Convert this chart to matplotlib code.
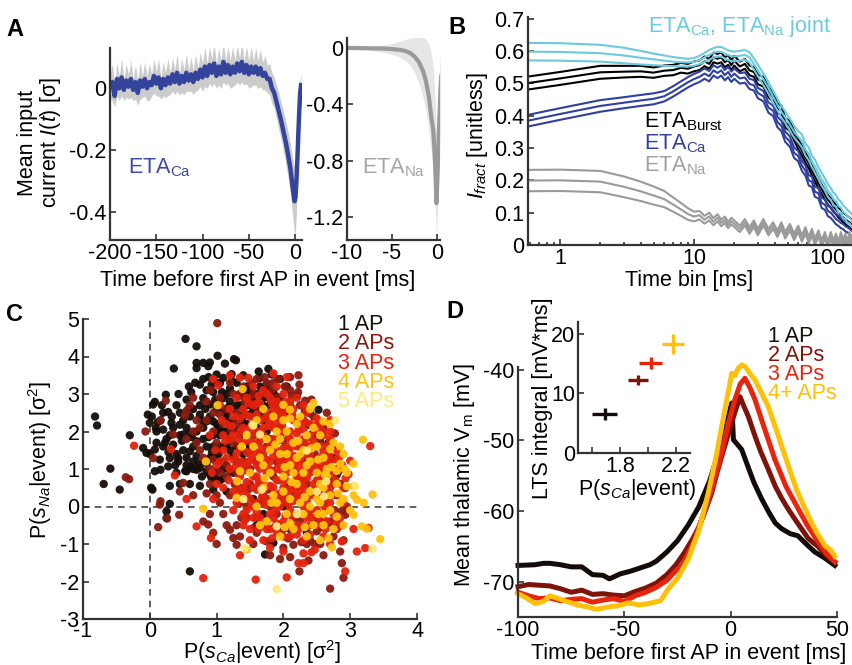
import numpy as np
import matplotlib
matplotlib.use('Agg')
import matplotlib.pyplot as plt

plt.rcParams['font.family'] = ['Liberation Sans', 'DejaVu Sans']
plt.rcParams['mathtext.fontset'] = 'custom'
plt.rcParams['mathtext.rm'] = 'Liberation Sans'
plt.rcParams['mathtext.it'] = 'Liberation Sans:italic'
plt.rcParams['mathtext.bf'] = 'Liberation Sans:bold'
plt.rcParams['axes.unicode_minus'] = False

# ---- panel A: ETA_Ca (left) ----
ca_t = [-200, -197.5, -195, -192.5, -190, -187.5, -185, -182.5, -180, -177.5,
        -175, -172.5, -170, -167.5, -165, -162.5, -160, -157.5, -155, -152.5,
        -150, -147.5, -145, -142.5, -140, -137.5, -135, -132.5, -130, -127.5,
        -125, -122.5, -120, -117.5, -115, -112.5, -110, -107.5, -105, -102.5,
        -100, -97.5, -95, -92.5, -90, -87.5, -85, -82.5, -80, -77.5,
        -75, -72.5, -70, -67.5, -65, -62.5, -60, -57.5, -55, -52.5,
        -50, -47.5, -45, -42.5, -40, -37.5, -35, -32.5, -30, -27.5,
        -25, -22.5, -20, -17.5, -15, -12.5, -10, -7.5, -5, -3,
        -1.5, -0.5, 0.5, 1.5, 2.5, 3.5, 4.5, 5.5, 6.5]
ca_v = [0.005, 0.02, -0.025, 0.03, 0.0, 0.035, -0.005, 0.025, 0.005, 0.03,
        -0.005, 0.02, -0.015, 0.025, 0.005, 0.03, 0.0, 0.02, 0.01, 0.04,
        0.015, 0.035, 0.0, 0.03, 0.01, 0.035, 0.015, 0.045, 0.02, 0.05,
        0.015, 0.04, 0.02, 0.05, 0.025, 0.045, 0.02, 0.05, 0.03, 0.06,
        0.035, 0.07, 0.04, 0.075, 0.05, 0.08, 0.04, 0.07, 0.045, 0.085,
        0.05, 0.075, 0.045, 0.07, 0.05, 0.08, 0.055, 0.085, 0.05, 0.075,
        0.045, 0.07, 0.05, 0.07, 0.045, 0.065, 0.04, 0.05, 0.03, 0.03,
        0.0, -0.015, -0.045, -0.075, -0.105, -0.14, -0.175, -0.215, -0.26, -0.31,
        -0.345, -0.365, -0.35, -0.3, -0.23, -0.15, -0.075, -0.015, 0.01]
ca_err = [0.04, 0.06, 0.035, 0.055, 0.04, 0.06, 0.035, 0.055, 0.04, 0.06,
          0.035, 0.055, 0.04, 0.06, 0.035, 0.055, 0.04, 0.06, 0.035, 0.055,
          0.04, 0.06, 0.035, 0.055, 0.04, 0.06, 0.035, 0.055, 0.04, 0.06,
          0.035, 0.055, 0.04, 0.06, 0.035, 0.055, 0.04, 0.06, 0.035, 0.055,
          0.045, 0.065, 0.04, 0.06, 0.045, 0.065, 0.04, 0.06, 0.045, 0.065,
          0.04, 0.06, 0.045, 0.065, 0.04, 0.06, 0.045, 0.065, 0.04, 0.06,
          0.045, 0.065, 0.04, 0.06, 0.045, 0.06, 0.045, 0.055, 0.045, 0.05,
          0.05, 0.05, 0.055, 0.06, 0.06, 0.065, 0.07, 0.075, 0.08, 0.09,
          0.1, 0.11, 0.11, 0.1, 0.08, 0.06, 0.05, 0.04, 0.04]

# ---- panel A: ETA_Na (right) ----
na_t = [-10, -8, -6, -5, -4, -3.5, -3, -2.5, -2, -1.5,
        -1.2, -0.9, -0.6, -0.4, -0.2, -0.05, 0.1, 0.25, 0.4, 0.5]
na_v = [0.0, -0.002, -0.005, -0.008, -0.015, -0.022, -0.035, -0.06, -0.1, -0.17,
        -0.24, -0.34, -0.5, -0.58, -0.8, -1.1, -0.85, -0.55, -0.3, -0.2]
na_hi = [0.01, 0.012, 0.02, 0.03, 0.05, 0.06, 0.07, 0.075, 0.08, 0.075,
         0.06, 0.03, -0.05, -0.15, -0.35, -0.6, -0.4, -0.2, -0.05, 0.0]
na_lo = [-0.01, -0.015, -0.03, -0.045, -0.07, -0.09, -0.12, -0.17, -0.25, -0.36,
         -0.45, -0.58, -0.75, -0.9, -1.1, -1.32, -1.15, -0.9, -0.6, -0.45]

# ---- panel B: I_fract vs time bin (mid line and half spread of 3 lines) ----
t_bin = [0.5, 1, 2, 3, 4, 5, 6, 7, 8, 9, 10,
         11, 12, 13, 14, 15, 16, 17, 18, 19, 20, 22,
         24, 26, 28, 30, 33, 36, 39, 42, 45, 48, 52,
         56, 60, 64, 68, 72, 76, 80, 85, 90, 95, 100,
         105, 110, 115, 120, 125, 130, 135, 140, 145, 150, 155]
joint_mid = [0.598, 0.597, 0.593, 0.586, 0.579, 0.574, 0.570, 0.567, 0.565, 0.564, 0.566,
             0.572, 0.580, 0.588, 0.594, 0.598, 0.597, 0.592, 0.587, 0.584, 0.583, 0.585,
             0.588, 0.580, 0.560, 0.540, 0.512, 0.486, 0.458, 0.434, 0.412, 0.395, 0.372,
             0.350, 0.335, 0.322, 0.295, 0.282, 0.258, 0.244, 0.222, 0.203, 0.188, 0.168,
             0.158, 0.142, 0.136, 0.12, 0.116, 0.102, 0.098, 0.088, 0.085, 0.076, 0.072]
joint_spr = [0.027, 0.027, 0.026, 0.024, 0.021, 0.018, 0.016, 0.014, 0.013, 0.012, 0.012,
             0.013, 0.014, 0.015, 0.015, 0.015, 0.015, 0.015, 0.015, 0.015, 0.015, 0.015,
             0.015, 0.016, 0.017, 0.018, 0.018, 0.018, 0.018, 0.018, 0.018, 0.018, 0.018,
             0.018, 0.018, 0.02, 0.018, 0.02, 0.018, 0.02, 0.018, 0.02, 0.018, 0.02,
             0.018, 0.02, 0.018, 0.02, 0.018, 0.02, 0.018, 0.02, 0.018, 0.02, 0.018]
burst_mid = [0.497, 0.515, 0.534, 0.536, 0.537, 0.533, 0.539, 0.541, 0.548, 0.545, 0.552,
             0.556, 0.568, 0.56, 0.58, 0.576, 0.58, 0.565, 0.572, 0.556, 0.57, 0.552,
             0.56, 0.54, 0.535, 0.512, 0.505, 0.472, 0.458, 0.422, 0.416, 0.378, 0.368,
             0.338, 0.312, 0.292, 0.27, 0.252, 0.23, 0.212, 0.19, 0.172, 0.155, 0.14,
             0.13, 0.118, 0.11, 0.1, 0.094, 0.085, 0.08, 0.074, 0.07, 0.064, 0.06]
burst_spr = [0.02, 0.02, 0.02, 0.018, 0.017, 0.016, 0.016, 0.016, 0.015, 0.015, 0.015,
             0.015, 0.015, 0.015, 0.015, 0.015, 0.015, 0.015, 0.015, 0.015, 0.015, 0.015,
             0.015, 0.015, 0.015, 0.015, 0.015, 0.015, 0.015, 0.015, 0.015, 0.015, 0.015,
             0.015, 0.015, 0.015, 0.015, 0.015, 0.015, 0.015, 0.015, 0.015, 0.015, 0.015,
             0.015, 0.015, 0.015, 0.015, 0.015, 0.015, 0.015, 0.015, 0.015, 0.015, 0.015]
ca_mid = [0.379, 0.405, 0.43, 0.44, 0.447, 0.452, 0.46, 0.475, 0.49, 0.503, 0.513,
          0.52, 0.53, 0.522, 0.54, 0.532, 0.54, 0.525, 0.535, 0.52, 0.53, 0.515,
          0.518, 0.498, 0.494, 0.47, 0.46, 0.425, 0.415, 0.38, 0.368, 0.335, 0.32,
          0.285, 0.275, 0.245, 0.23, 0.2, 0.195, 0.165, 0.16, 0.13, 0.125, 0.105,
          0.1, 0.09, 0.08, 0.075, 0.068, 0.065, 0.058, 0.055, 0.05, 0.045, 0.04]
ca_spr = [0.018, 0.018, 0.018, 0.017, 0.017, 0.017, 0.016, 0.016, 0.016, 0.016, 0.016,
          0.016, 0.016, 0.016, 0.016, 0.016, 0.016, 0.016, 0.016, 0.016, 0.016, 0.016,
          0.016, 0.016, 0.016, 0.016, 0.016, 0.016, 0.016, 0.016, 0.016, 0.016, 0.016,
          0.016, 0.016, 0.016, 0.016, 0.016, 0.016, 0.016, 0.016, 0.016, 0.016, 0.016,
          0.016, 0.016, 0.016, 0.016, 0.016, 0.016, 0.016, 0.016, 0.016, 0.016, 0.016]
nab_mid = [0.199, 0.2, 0.196, 0.18, 0.166, 0.153, 0.142, 0.125, 0.11, 0.096, 0.088,
           0.092, 0.078, 0.088, 0.072, 0.084, 0.068, 0.078, 0.062, 0.074, 0.066, 0.05,
           0.07, 0.045, 0.066, 0.04, 0.07, 0.04, 0.06, 0.035, 0.06, 0.03, 0.055,
           0.025, 0.05, 0.02, 0.045, 0.015, 0.04, 0.01, 0.035, 0.005, 0.03, 0.0,
           0.03, 0.005, 0.025, 0.0, 0.03, 0.005, 0.025, 0.0, 0.03, 0.01, 0.025]
nab_spr = [0.033, 0.033, 0.033, 0.032, 0.03, 0.028, 0.025, 0.022, 0.02, 0.018, 0.015,
           0.013, 0.012, 0.012, 0.011, 0.011, 0.01, 0.01, 0.01, 0.01, 0.01, 0.01,
           0.01, 0.01, 0.01, 0.01, 0.01, 0.01, 0.01, 0.01, 0.01, 0.01, 0.01,
           0.01, 0.01, 0.01, 0.01, 0.01, 0.01, 0.01, 0.01, 0.01, 0.01, 0.01,
           0.01, 0.01, 0.01, 0.01, 0.01, 0.01, 0.01, 0.01, 0.01, 0.01, 0.01]

# ---- panel C: P(s_Ca|event), P(s_Na|event) per event ----
ap1_pts = [(-0.82, 2.40), (-0.79, 2.16), (-0.69, 0.60), (-0.59, 1.01), (-0.45, 0.45), (-0.3, 1.9),
           (-0.1, 1.56), (-0.05, 1.43), (-0.03, 2.45), (0.0, 2.23), (0.03, 2.40), (0.0, 1.40),
           (0.02, 0.50), (0.04, 0.45), (0.05, 2.72), (0.075, 2.79), (0.075, 1.52), (0.075, 0.94),
           (0.09, 2.09), (0.16, 0.98), (0.16, 2.30), (0.2, 2.05), (0.2, 1.60), (0.225, 1.69),
           (0.24, 2.98), (0.25, -0.13), (0.25, -0.31), (0.275, 2.52), (0.275, 1.07), (0.3, 0.07),
           (0.3, 1.29), (0.325, 2.23), (0.36, 3.68), (0.425, 1.29), (0.425, 1.20), (0.45, 2.18),
           (0.5, 1.92), (0.535, 4.47), (0.55, 0.94), (0.585, 3.2), (0.6, 1.47), (0.6, 1.96),
           (0.6, -1.73), (0.65, 1.20), (0.7, 4.27), (0.7, 3.83), (0.7, 3.69), (0.7, 1.74),
           (0.7, 0.98), (0.75, 3.25), (0.75, 2.45), (0.75, 1.03), (0.8, 3.83), (0.8, 2.89),
           (0.85, 2.27), (0.85, 0.94), (0.875, 3.74), (0.9, 3.84), (0.9, 2.72), (0.925, 3.25),
           (0.925, 0.76), (0.95, 2.27), (1.0, 3.52), (1.0, 0.94), (1.015, 4.02), (1.05, 3.29),
           (1.075, 2.0), (1.1, 3.43), (1.1, 2.89), (1.1, 1.2), (1.125, 3.81), (1.15, 2.45),
           (1.2, 2.80), (1.225, 3.53), (1.26, 3.93), (1.29, 3.90), (1.65, 3.43), (1.775, 3.67),
           (1.825, 3.52), (1.75, 3.25), (2.2, 2.96), (2.4, 2.49), (2.525, 2.58), (2.25, 2.27),
           (2.375, 2.18), (2.55, 1.74), (2.675, 1.70), (2.725, 1.30), (2.8, 0.85), (2.55, -0.31),
           (1.85, -0.97), (1.725, -1.28), (1.55, 2.80), (0.5, 1.5), (0.55, 1.1), (0.65, 2.6),
           (0.8, 2.1), (0.85, 1.6), (0.9, 1.3), (0.95, 1.9), (1.0, 2.6), (1.05, 1.6),
           (1.1, 1.0), (1.15, 2.0), (1.2, 1.5), (1.25, 2.3), (1.3, 2.7), (1.3, 1.2),
           (1.35, 3.0), (1.35, 1.9), (1.4, 2.5), (1.45, 2.2), (1.45, 3.2), (1.5, 2.7),
           (1.55, 2.4), (1.6, 3.0), (1.6, 2.1), (1.65, 2.6), (1.7, 2.9), (1.7, 2.3),
           (1.75, 2.0), (1.8, 2.7), (1.85, 3.1), (1.9, 2.4), (1.95, 2.9), (2.0, 2.6),
           (2.05, 3.2), (2.1, 2.5), (0.4, 0.9), (0.45, 0.6), (0.6, 0.6), (0.75, 0.55),
           (0.95, 0.45), (1.05, 0.7), (0.35, 1.65), (0.45, 2.5), (0.55, 2.85), (0.62, 3.05),
           (0.95, 3.05), (1.2, 3.15), (1.4, 3.5), (1.0, 1.45), (1.25, 0.9), (1.5, 1.6),
           (1.6, 1.2), (1.35, 0.5), (1.55, 0.2), (1.7, -0.2), (2.1, -0.6), (2.35, -0.7),
           (2.0, 0.0), (1.6, -0.5), (0.3, 0.55), (0.15, 1.25),
           (0.4, 1.4), (0.45, 1.9), (0.5, 2.3), (0.55, 2.1), (0.6, 2.4), (0.65, 1.6),
           (0.7, 2.0), (0.75, 2.7), (0.8, 1.8), (0.8, 3.4), (0.85, 3.1), (0.9, 2.4),
           (0.95, 1.6), (1.0, 2.2), (1.0, 3.3), (1.05, 1.9), (1.1, 2.6), (1.15, 3.0),
           (1.2, 2.2), (1.2, 1.8), (1.25, 2.6), (1.3, 3.3), (1.35, 2.7), (1.4, 2.2),
           (1.45, 2.7), (1.5, 3.1), (1.55, 2.55), (1.6, 2.3), (1.65, 3.2), (1.7, 2.7),
           (1.8, 2.45), (1.9, 2.7), (1.95, 3.4), (0.55, 1.3), (0.65, 1.0), (0.7, 1.35),
           (0.85, 1.15), (0.9, 0.85), (1.0, 1.25), (1.15, 1.6), (0.3, 1.9), (0.35, 2.1),
           (0.4, 2.7), (0.2, 2.5), (0.1, 2.0), (0.1, 1.7), (1.15, 0.4), (1.3, 1.6), (1.4, 1.4),
           (0.33, 2.4), (0.38, 1.1), (0.43, 3.0), (0.48, 1.75), (0.53, 0.95), (0.58, 2.6),
           (0.63, 1.85), (0.68, 3.3), (0.73, 1.15), (0.78, 2.3), (0.83, 2.6), (0.88, 3.45),
           (0.93, 1.45), (0.98, 2.85), (1.03, 2.1), (1.08, 3.05), (1.13, 2.35), (1.18, 2.65),
           (1.23, 3.35), (1.28, 2.05), (1.33, 2.95), (1.38, 2.35), (1.43, 3.0), (1.48, 2.45),
           (1.53, 2.95), (1.58, 2.65), (1.63, 3.6), (1.68, 2.45), (1.73, 3.1), (1.78, 2.9),
           (1.88, 2.95), (0.25, 1.8), (0.18, 2.7), (0.12, 2.25), (0.28, 1.45), (0.6, 1.05),
           (0.78, 0.8), (0.88, 1.85), (1.03, 1.4), (1.18, 1.0), (0.98, 0.75), (1.1, 0.75),
           (1.25, 1.35), (1.45, 1.0)]
ap2_pts = [(1.01, 4.89), (-0.36, 0.78), (-0.31, 0.73), (-0.065, 2.0), (0.125, -0.55), (0.26, -0.32),
           (0.44, -0.22), (0.15, 0.05), (0.16, 0.14), (0.24, 2.82), (0.16, 2.29), (0.525, 2.43),
           (0.35, 1.92), (0.05, 1.29), (0.5, 0.63), (0.45, 0.40), (0.8, -0.40), (0.875, -0.48),
           (1.2, -0.62), (1.25, -0.84), (1.3, -1.02), (2.225, 3.50), (2.24, 3.25), (2.325, 2.82),
           (2.69, 1.70), (2.725, 1.57), (2.85, 1.1), (2.825, 0.93), (2.925, 0.49), (2.875, -0.13),
           (2.925, -0.22), (2.6, -0.35), (2.675, -0.44), (2.5, -0.66), (2.0, -1.1), (2.15, -1.02),
           (1.75, -0.93), (2.375, -1.44), (2.875, -1.51), (2.70, -2.19), (2.24, -1.73), (0.6, 2.7),
           (0.7, 2.3), (0.8, 1.3), (0.9, 1.0), (0.95, 2.5), (1.0, 0.3), (1.1, 2.2),
           (1.15, 0.8), (1.2, 3.3), (1.25, 1.7), (1.3, 2.5), (1.35, 0.1), (1.4, 1.2),
           (1.45, -0.3), (1.5, 2.9), (1.5, 0.6), (1.55, 1.9), (1.6, -0.7), (1.65, 1.4),
           (1.7, 2.6), (1.7, 0.3), (1.75, -0.4), (1.8, 1.8), (1.85, 3.3), (1.85, 0.8),
           (1.9, -0.2), (1.95, 2.1), (2.0, 1.3), (2.0, -0.6), (2.05, 0.5), (2.1, 2.7),
           (2.15, 1.7), (2.2, 0.2), (2.25, -0.4), (2.3, 1.2), (2.3, 2.3), (2.35, 0.6),
           (2.4, -0.9), (2.45, 1.9), (2.5, 0.3), (2.55, 1.0), (2.6, 2.1), (2.65, -0.1),
           (2.7, 0.7), (2.75, -0.8), (2.8, 0.3), (1.35, 3.0), (1.6, 3.4), (1.1, -0.2),
           (0.65, 0.3), (0.95, -0.7), (1.55, -1.0), (1.95, -1.4), (2.55, -1.0), (2.85, -1.2),
           (2.9, -1.9), (2.1, 3.45), (1.9, 2.6), (0.9, 3.1), (1.05, 2.9), (0.7, 1.7),
           (1.3, -0.5),
           (0.55, 1.8), (0.65, 2.0), (0.75, 1.5), (0.85, 2.8), (0.9, 0.6), (1.0, 1.7),
           (1.05, 0.1), (1.15, 2.6), (1.2, 0.3), (1.25, 3.0), (1.3, 0.9), (1.4, 3.2),
           (1.45, 0.0), (1.5, 1.0), (1.55, 3.0), (1.6, -0.3), (1.65, 2.0), (1.7, 1.1),
           (1.75, 3.3), (1.8, 0.0), (1.85, 1.5), (1.9, 2.9), (1.95, -0.5), (2.0, 1.75),
           (2.05, 0.1), (2.1, 3.1), (2.15, -0.3), (2.2, 1.3), (2.25, 2.7), (2.3, 0.7),
           (2.35, -1.0), (2.4, 1.0), (2.45, 2.4), (2.5, -0.3), (2.55, 1.7), (2.6, 0.1),
           (2.65, 2.5), (2.7, -0.4), (2.75, 1.3), (2.8, -0.6), (2.85, 0.6), (2.9, -0.9),
           (2.95, 0.0), (1.15, -0.5), (0.9, -0.2), (1.0, -1.0), (1.35, -0.8), (1.8, -1.3),
           (2.1, -1.35), (2.6, -1.3),
           (1.22, 2.05), (1.32, 2.2), (1.42, 2.8), (1.52, 3.3), (1.62, 2.6), (1.72, 3.45),
           (1.82, 3.1), (1.92, 3.4), (2.02, 3.2), (2.12, 2.95), (2.22, 3.05), (2.32, 2.55),
           (2.42, 2.85), (1.27, 0.6), (1.37, -0.3), (1.47, 0.45), (1.57, -0.55), (1.67, 0.1),
           (1.77, 0.45), (1.87, -0.55), (1.97, 0.25), (2.07, -0.85), (2.17, 0.35), (2.27, -0.95),
           (2.37, -0.15), (2.47, -1.0), (2.57, -0.55), (2.67, 0.35), (2.77, -0.1), (2.87, -0.5),
           (0.85, 2.3), (0.95, 2.0), (1.05, 2.45), (0.75, 2.1), (0.65, 2.9), (0.55, 2.55),
           (1.15, 1.1), (1.05, 0.9), (0.85, 0.35), (0.95, 1.25), (2.47, 1.4), (2.57, 1.95),
           (2.67, 1.2), (2.77, 1.95), (2.0, 2.55), (1.9, 1.2), (1.75, 1.6), (2.3, 1.6)]
ap3_pts = [(-0.235, 1.62), (0.315, 1.53), (0.375, 0.83), (0.915, -0.84), (0.8, -1.91), (0.70, -0.53),
           (1.35, -1.30), (1.025, 3.23), (1.35, 3.44), (1.475, 3.43), (1.585, -1.95), (2.05, -1.89),
           (2.225, -1.51), (2.3, -1.51), (2.925, -1.73), (3.1, -1.2), (3.225, -1.11), (2.875, -0.93),
           (2.8, -0.57), (3.275, -0.57), (3.3, 1.61), (2.7, 2.30), (3.0, 1.22), (2.975, 0.86),
           (2.42, -1.22), (2.47, -1.15), (0.55, 0.2), (0.95, 3.4), (1.2, 3.5), (1.85, 3.55),
           (2.05, 3.45), (2.7, -1.0), (2.9, 0.1), (3.05, -0.6),
           (1.2, 1.8), (1.2, 1.0), (1.25, 2.4), (1.25, 0.4), (1.3, 1.4), (1.3, 2.9),
           (1.35, 0.8), (1.35, 2.0), (1.4, -0.2), (1.4, 1.7), (1.4, 2.6), (1.45, 1.1),
           (1.45, 0.3), (1.5, 2.1), (1.5, 1.4), (1.5, -0.6), (1.55, 0.8), (1.55, 2.7),
           (1.6, 1.7), (1.6, 0.1), (1.6, 1.1), (1.65, 2.3), (1.65, -0.3), (1.65, 0.6),
           (1.7, 1.4), (1.7, 3.1), (1.7, 1.9), (1.75, 0.9), (1.75, -0.6), (1.75, 2.5),
           (1.8, 0.2), (1.8, 1.2), (1.8, 1.6), (1.85, 2.1), (1.85, 0.5), (1.85, -0.3),
           (1.9, 1.0), (1.9, 2.8), (1.9, 1.5), (1.95, 0.0), (1.95, 1.9), (1.95, 0.7),
           (2.0, 1.2), (2.0, 2.4), (2.0, -0.4), (2.05, 1.6), (2.05, 0.3), (2.05, 0.9),
           (2.1, 2.0), (2.1, 1.3), (2.1, -0.1), (2.15, 0.6), (2.15, 2.6), (2.15, 1.0),
           (2.2, 1.6), (2.2, -0.5), (2.2, 0.3), (2.25, 1.2), (2.25, 2.2), (2.25, 0.8),
           (2.3, 1.8), (2.3, 0.0), (2.3, 0.5), (2.35, 1.4), (2.35, 2.5), (2.35, -0.3),
           (2.4, 0.9), (2.4, 1.9), (2.45, 0.3), (2.45, 1.2), (2.5, 1.6), (2.5, -0.1),
           (2.5, 0.7), (2.55, 2.2), (2.55, 1.3), (2.6, 0.4), (2.6, 1.0), (2.65, 1.6),
           (2.65, -0.4), (2.7, 0.1), (2.7, 1.2), (2.75, 0.6), (2.8, 1.5), (2.85, -0.3),
           (1.45, 2.9), (1.55, 3.2), (1.8, 2.9), (2.0, 3.0), (2.2, 2.9), (1.3, 0.1),
           (1.5, -0.9), (1.7, -0.9), (1.9, -0.7), (2.1, -0.8), (2.3, -0.9), (2.5, -0.5),
           (1.1, 1.5), (1.1, 0.5), (1.0, 1.1), (0.9, 1.9), (0.95, 0.2), (1.15, 2.2),
           (1.05, 2.7), (1.6, 2.0), (1.85, 1.8), (2.1, 1.8), (2.4, 1.6), (1.7, 0.4),
           (2.0, 0.5), (2.3, 0.3), (1.9, 0.3), (2.2, 1.0), (1.6, 0.8), (1.4, 0.5),
           (2.45, 2.0), (2.6, 1.9), (2.7, 2.0), (2.8, 1.0), (2.9, 0.5), (2.6, -0.8),
           (2.4, -0.5), (2.0, -1.2), (1.8, -1.1), (2.3, -1.25),
           (1.25, 1.25), (1.3, 0.65), (1.35, 1.55), (1.35, 2.35), (1.4, 0.95), (1.4, 2.1),
           (1.45, 1.45), (1.45, 0.65), (1.5, 1.75), (1.5, 0.2), (1.5, 2.4), (1.55, 1.25),
           (1.55, -0.3), (1.6, 0.45), (1.6, 2.45), (1.65, 1.0), (1.65, 1.75), (1.65, 2.75),
           (1.7, 0.7), (1.7, -0.5), (1.7, 2.1), (1.75, 1.25), (1.75, 0.2), (1.8, 0.55),
           (1.8, 2.3), (1.8, -0.2), (1.85, 1.35), (1.85, 2.6), (1.9, 0.7), (1.9, 1.75),
           (1.9, -0.45), (1.95, 1.15), (1.95, 2.35), (1.95, 0.35), (2.0, 1.55), (2.0, 0.15),
           (2.0, 2.0), (2.05, 1.1), (2.05, 2.6), (2.05, -0.55), (2.1, 0.45), (2.1, 1.55),
           (2.15, 0.15), (2.15, 1.35), (2.15, 2.3), (2.2, 0.8), (2.2, 1.95), (2.2, -0.2),
           (2.25, 0.45), (2.25, 1.6), (2.3, 1.05), (2.3, 2.05), (2.3, -0.5), (2.35, 0.75),
           (2.35, 0.15), (2.4, 1.4), (2.4, 2.2), (2.4, -0.1), (2.45, 0.6), (2.45, 1.75),
           (2.5, 1.05), (2.5, 2.35), (2.55, 0.4), (2.55, 1.6), (2.55, -0.3), (2.6, 0.75),
           (2.6, 1.45), (2.65, 0.2), (2.65, 1.1), (2.7, 0.5), (2.7, 1.8), (2.75, 0.9),
           (2.75, -0.2), (2.8, 1.25), (1.55, 0.5), (1.45, -0.1), (1.35, 1.2), (1.25, 1.9),
           (1.2, 2.6), (1.15, 1.3), (1.1, 1.9), (1.05, 1.2), (1.0, 0.6), (1.25, -0.1),
           (1.4, -0.5), (1.6, -0.15), (1.8, -0.6), (2.0, -0.8), (2.2, -0.75), (2.4, -0.75),
           (1.6, 2.75), (1.75, 3.0), (1.9, 3.2), (1.95, 2.6), (2.1, 2.8), (2.3, 2.7),
           (1.28, 1.05), (1.33, 1.8), (1.38, 0.35), (1.43, 2.45), (1.48, 1.2), (1.53, 0.0),
           (1.58, 1.95), (1.63, 0.65), (1.68, 1.55), (1.73, 0.05), (1.78, 2.15), (1.83, 0.95),
           (1.88, -0.1), (1.93, 1.3), (1.98, 2.15), (2.03, 0.7), (2.08, 1.85), (2.13, -0.25),
           (2.18, 1.15), (2.23, 2.05), (2.28, 0.6), (2.33, 1.65), (2.38, 0.3), (2.43, 1.0),
           (2.48, 2.15), (2.53, 0.85), (2.58, 1.15), (2.63, -0.05), (2.68, 1.35), (2.73, 0.3),
           (2.78, 0.7), (2.83, 1.3), (1.58, 1.45), (1.68, 0.25), (1.78, 1.0), (1.88, 2.25),
           (1.98, 0.95), (2.08, 0.05), (2.18, 0.45), (2.28, 1.35), (2.38, 1.85), (2.48, 0.45),
           (2.58, 2.0), (2.68, 0.6), (1.48, 2.75), (1.63, 2.95), (1.83, 2.75), (2.03, 2.8),
           (1.38, 1.05), (1.33, 0.45), (1.43, -0.35), (1.63, -0.6), (1.83, -0.85), (2.03, -0.25),
           (2.23, -0.6), (2.43, -0.3), (2.63, -0.6), (2.78, -0.45), (2.93, 0.75), (2.88, 1.1),
           (1.18, 0.7), (1.13, 1.75), (1.23, 2.15), (1.08, 2.3), (0.98, 1.5), (0.93, 0.9),
           (1.73, 2.35), (1.93, 2.5), (2.13, 2.45), (2.33, 2.25)]
ap4_pts = [(1.39, 3.13), (1.015, 2.70), (0.84, 1.20), (0.8, -0.06), (1.45, -1.15), (1.35, 0.94),
           (1.31, 0.67), (1.3, 0.23), (1.375, 1.6), (1.535, 2.18), (2.0, 2.71), (2.1, 2.58),
           (2.45, 2.76), (2.6, 2.27), (3.19, 1.78), (2.7, 1.53), (2.85, 1.14), (3.05, 1.14),
           (2.95, 0.54), (3.05, 0.54), (3.1, 0.18), (3.335, 0.32), (3.05, -0.22), (3.175, -0.53),
           (3.25, -0.59), (3.45, -0.87), (2.725, -1.09), (2.675, -0.84), (2.8, -0.27),
           (1.6, 0.0), (1.65, 1.3), (1.7, 0.5), (1.75, 1.8), (1.8, 0.9), (1.85, 2.4),
           (1.9, 0.1), (1.95, 1.4), (2.0, 0.8), (2.05, 2.0), (2.1, 0.2), (2.1, 1.1),
           (2.15, -0.6), (2.15, 1.7), (2.2, 0.6), (2.25, 2.4), (2.25, 1.4), (2.3, -0.2),
           (2.3, 0.9), (2.35, 1.9), (2.4, 0.4), (2.4, 1.2), (2.45, -0.5), (2.45, 2.1),
           (2.5, 0.9), (2.5, 1.6), (2.55, 0.1), (2.55, 0.6), (2.6, 1.3), (2.6, -0.2),
           (2.65, 0.8), (2.7, 0.3), (2.75, 1.7), (2.75, -0.6), (2.8, 0.6), (2.85, 0.1),
           (2.9, -0.5), (2.95, 0.9), (1.55, 1.6), (1.75, -0.4), (1.95, -0.8), (2.35, -0.8),
           (2.55, -0.9), (2.2, 2.2), (2.4, 2.6), (1.9, 2.0), (1.5, 0.9), (1.45, 1.9),
           (2.05, -0.2), (2.7, 2.2), (2.9, 1.4), (3.0, -0.1), (3.2, 0.1),
           (1.7, 1.1), (1.8, 1.5), (1.85, 0.3), (1.95, 1.8), (2.0, 0.4), (2.05, 1.4),
           (2.15, 0.9), (2.2, 1.3), (2.25, 0.1), (2.3, 1.5), (2.35, 1.1), (2.4, 0.0),
           (2.5, 0.2), (2.55, 1.9), (2.6, 0.5), (2.65, 1.0), (2.7, -0.1), (2.8, 0.95),
           (2.85, 1.6), (2.9, 0.2), (1.6, 2.3), (1.7, 2.6), (2.0, 2.3), (1.65, -0.5),
           (2.1, -0.45), (2.6, -0.5),
           (1.72, 0.75), (1.88, 1.65), (2.02, 1.05), (2.12, 0.65), (2.22, 1.75), (2.32, 0.25),
           (2.42, 1.55), (2.52, 1.25), (2.62, 0.85), (2.72, 1.05), (2.82, 0.35), (2.02, -0.55),
           (2.32, -0.55), (2.52, -0.2), (1.82, 0.1), (2.92, 1.0), (3.05, 0.3), (2.1, 2.35)]
ap5_pts = [(3.335, -1.13), (1.9, -2.2), (3.075, 0.54), (2.64, 0.67), (2.61, 0.27), (1.675, 0.45),
           (2.35, 1.49), (1.65, 1.92), (1.55, 2.16), (2.78, 2.30), (1.42, -1.12), (1.9, -0.53),
           (2.2, -0.2), (2.5, 0.4), (1.4, 0.2)]

# ---- panel D: mean Vm around first AP ----
vm1_t = [-100, -92, -88, -85, -80, -75, -70, -65, -60, -57, -52, -47, -42, -38, -35, -30, -25,
         -20, -15, -10, -6, -3, -1, 0.5, 1.3, 3, 5.2, 8, 11, 14.6, 18, 21, 24, 28, 31.6, 36,
         39.6, 44, 49]
vm1_v = [-67.7, -67.6, -67.4, -67.4, -67.6, -67.9, -67.9, -69.0, -69.1, -69.6, -68.9, -68.5,
         -68.0, -67.6, -67.1, -65.8, -64.2, -62.0, -59.4, -55.8, -52.0, -48.8, -46.5, -44.7,
         -49.9, -50.5, -51.3, -53.6, -56.0, -58.3, -60.2, -61.7, -62.5, -63.2, -63.5, -64.8,
         -65.8, -66.6, -67.7]
vm2_t = [-100, -95, -90, -85, -80, -75, -70, -65, -60, -55, -50, -45, -40, -35, -30, -26, -22,
         -18, -15, -12, -9, -6, -3, 0, 2, 4.4, 6, 8.3, 11, 14, 17.7, 21, 24, 27, 31, 36.5, 41, 45, 49]
vm2_v = [-70.7, -70.4, -70.5, -70.6, -71.0, -71.5, -71.2, -71.8, -71.7, -71.9, -72.0, -71.4,
         -70.9, -70.2, -69.0, -67.7, -66.0, -64.0, -62.3, -60.0, -57.5, -54.1, -51.0, -48.0,
         -46.0, -43.8, -45.0, -46.6, -49.0, -51.5, -54.1, -56.5, -58.2, -59.7, -61.5, -63.9,
         -65.0, -66.3, -67.2]
vm3_t = [-100, -95, -90, -85, -80, -75, -70, -65, -60, -55, -50, -45, -40, -35, -30, -26, -23,
         -18, -13.6, -9, -4.2, -1, 2, 4.5, 6.7, 9, 11.4, 15, 20.8, 26, 31.8, 36, 41.2, 45, 49]
vm3_v = [-71.5, -72.0, -72.4, -72.3, -72.7, -72.5, -72.4, -72.9, -72.6, -72.4, -72.8, -72.0,
         -71.5, -70.8, -69.8, -68.5, -67.7, -64.8, -61.1, -57.0, -51.7, -47.5, -44.2, -42.0,
         -41.2, -42.5, -44.2, -47.5, -52.7, -56.5, -59.7, -62.0, -64.4, -66.0, -67.2]
vm4_t = [-100, -96, -92, -88, -85, -80, -77, -72, -67, -63, -58, -53, -48, -43, -38.7, -33,
         -29.3, -25, -20, -15, -10.5, -7, -4.2, -2, 0.5, 2, 3.5, 5.2, 7, 9, 11.4, 14, 17.7, 22,
         27.1, 31, 36.5, 40, 44.3, 47, 49]
vm4_v = [-71.7, -72.3, -73.1, -72.8, -72.0, -72.5, -72.8, -73.3, -73.6, -73.9, -73.6, -73.4,
         -73.0, -73.3, -73.1, -72.7, -71.0, -69.5, -66.8, -62.8, -57.4, -52.5, -48.0, -44.5,
         -40.5, -40.8, -39.8, -39.3, -39.6, -40.5, -41.4, -43.0, -45.2, -49.0, -53.6, -57.0,
         -60.7, -62.8, -64.9, -65.5, -66.4]

# inset: LTS integral vs P(s_Ca|event)
lts_x = [1.69, 1.93, 2.02, 2.18]
lts_y = [6.5, 12.2, 15.1, 18.3]
lts_xerr = [0.087, 0.07, 0.083, 0.08]
lts_yerr = [1.0, 0.85, 1.0, 1.7]

ap_labels = ['1 AP', '2 APs', '3 APs', '4 APs', '5 APs']
ap_colors = ['#160d09', '#8a1a0f', '#e3220c', '#ffc20e', '#ffe97a']
vm_labels = ['1 AP', '2 APs', '3 APs', '4+ APs']
vm_colors = ['#140c08', '#7e1409', '#e8240c', '#ffc107']

BLUE = '#34449c'
GRAY = '#9a9a9a'
CYAN = '#6ccade'
FS = 15.5
W, H = 853, 665

fig = plt.figure(figsize=(W / 100, H / 100), dpi=100)


def add_ax(l, t, r, b):
    return fig.add_axes([l / W, 1 - b / H, (r - l) / W, (b - t) / H])


def ftext(x, y, s, **kw):
    kw.setdefault('fontsize', FS)
    fig.text(x / W, 1 - y / H, s, **kw)


def style(ax):
    for side in ['top', 'right']:
        ax.spines[side].set_visible(False)
    for side in ['left', 'bottom']:
        ax.spines[side].set_linewidth(1.6)
        ax.spines[side].set_color('#333333')
    ax.tick_params(which='both', direction='in', width=1.2, colors='#333333',
                   labelcolor='black', labelsize=FS, pad=2.5)
    ax.tick_params(which='major', length=4)
    ax.tick_params(which='minor', length=2.5)
    ax.patch.set_alpha(0)


# A left
ax = add_ax(110, 48, 302, 240)
style(ax)
ca_v_a = np.array(ca_v)
ca_e = np.array(ca_err)
ax.fill_between(ca_t, ca_v_a - ca_e, ca_v_a + ca_e, color='#c4c4c4', lw=0, alpha=0.85)
ax.plot(ca_t, ca_v, color=BLUE, lw=3.2)
ax.set_xlim(-200, 7.5)
ax.set_ylim(-0.49, 0.13)
ax.set_xticks([-200, -150, -100, -50, 0])
ax.set_xticklabels(['-200', '-150', '-100', '-50', '0'])
ax.set_yticks([0, -0.2, -0.4])
ax.set_yticklabels(['0', '-0.2', '-0.4'])
ftext(128, 173, r'ETA$_{\mathrm{Ca}}$', color='#3b4aa2', va='baseline')

# A right
ax = add_ax(347, 38, 440, 240)
style(ax)
ax.fill_between(na_t, na_lo, na_hi, color='#e6e6e6', lw=0)
ax.plot(na_t, na_v, color=GRAY, lw=3)
ax.set_xlim(-10, 0.35)
ax.set_ylim(-1.36, 0.07)
ax.set_xticks([-10, -5, 0])
ax.set_xticklabels(['-10', '-5', '0'])
ax.set_yticks([0, -0.4, -0.8, -1.2])
ax.set_yticklabels(['0', '-0.4', '-0.8', '-1.2'])
ftext(362, 173, r'ETA$_{\mathrm{Na}}$', color='#a5a5a5', va='baseline')

ftext(40, 143, 'Mean input\ncurrent $I$($t$) [σ]', rotation=90, ha='center', va='center',
      linespacing=1.05)
ftext(258, 286, 'Time before first AP in event [ms]', ha='center', va='baseline')

# B
ax = add_ax(528, 17, 853, 245)
style(ax)
ax.set_xscale('log')
groups = [(burst_mid, burst_spr, 'black'), (ca_mid, ca_spr, '#2f40a0'),
          (joint_mid, joint_spr, CYAN), (nab_mid, nab_spr, GRAY)]
for mid, spr, col in groups:
    mid = np.array(mid)
    spr = np.array(spr)
    for k in (-1, 0, 1):
        ax.plot(t_bin, mid + k * spr, color=col, lw=1.5)
ax.set_xlim(0.577, 154)
ax.set_ylim(0, 0.705)
ax.set_xticks([1, 10, 100])
ax.set_xticklabels(['1', '10', '100'])
ax.set_yticks([0, 0.1, 0.2, 0.3, 0.4, 0.5, 0.6, 0.7])
ax.set_yticklabels(['0', '0.1', '0.2', '0.3', '0.4', '0.5', '0.6', '0.7'])
ftext(648, 32, r'ETA$_{\mathrm{Ca}}$, ETA$_{\mathrm{Na}}$ joint', color=CYAN, va='baseline')
ftext(644, 127, r'ETA$_{\mathrm{Burst}}$', color='black', va='baseline')
ftext(644, 149, r'ETA$_{\mathrm{Ca}}$', color='#2f40a0', va='baseline')
ftext(644, 171, r'ETA$_{\mathrm{Na}}$', color='#a0a0a0', va='baseline')
ftext(478, 135, r'$I_{fract}$ [unitless]', rotation=90, ha='center', va='center')
ftext(689, 286, 'Time bin [ms]', ha='center', va='baseline')

# C
ax = add_ax(83, 319, 417, 619)
style(ax)
ax.axvline(0, color='#444444', lw=1.2, ls=(0, (4, 3)), zorder=0)
ax.axhline(0, color='#444444', lw=1.2, ls=(0, (4, 3)), zorder=0)
for pts, col in zip([ap1_pts, ap2_pts, ap3_pts, ap4_pts, ap5_pts], ap_colors):
    p = np.array(pts)
    ax.scatter(p[:, 0], p[:, 1], s=36, color=col, edgecolors='none', alpha=0.95)
ax.set_xlim(-1, 4)
ax.set_ylim(-3, 5)
ax.set_xticks([-1, 0, 1, 2, 3, 4])
ax.set_yticks([-3, -2, -1, 0, 1, 2, 3, 4, 5])
ax.tick_params(axis='x', pad=1.5)
for i, (lab, col) in enumerate(zip(ap_labels, ap_colors)):
    ftext(338, 330 + i * 19.3, lab, color=col, va='baseline')
ftext(40, 460, r'P($s_{Na}$|event) [σ$^2$]', rotation=90, ha='center', va='center')
ftext(262, 659, r'P($s_{Ca}$|event) [σ$^2$]', ha='center', va='baseline')

# D
ax = add_ax(518, 367, 837, 617)
style(ax)
for tt, vv, col in zip([vm1_t, vm2_t, vm3_t, vm4_t], [vm1_v, vm2_v, vm3_v, vm4_v], vm_colors):
    ax.plot(tt, vv, color=col, lw=3.6, clip_on=False, solid_joinstyle='round')
ax.set_xlim(-100, 50)
ax.set_ylim(-75, -39.6)
ax.set_xticks([-100, -50, 0, 50])
ax.set_yticks([-70, -60, -50, -40])
for i, (lab, col) in enumerate(zip(vm_labels, vm_colors)):
    ftext(768, 342 + i * 19, lab, color=col, va='baseline')
ftext(465, 475, r'Mean thalamic V$_{\mathrm{m}}$ [mV]', rotation=90, ha='center', va='center')
ftext(689, 659, 'Time before first AP in event [ms]', ha='center', va='baseline')

# D inset
ax = add_ax(578, 322, 690, 453)
style(ax)
for x, y, xe, ye, col in zip(lts_x, lts_y, lts_xerr, lts_yerr, vm_colors):
    ax.errorbar(x, y, xerr=xe, yerr=ye, fmt='none', ecolor=col, elinewidth=2.4, capsize=0)
ax.set_xlim(1.5, 2.3)
ax.set_ylim(0, 22)
ax.set_xticks([1.6, 1.8, 2.0, 2.2])
ax.set_xticklabels(['', '1.8', '', '2.2'])
ax.set_yticks([0, 10, 20])
ax.tick_params(pad=2)
ftext(543, 398, 'LTS integral [mV*ms]', rotation=90, ha='center', va='center')
ftext(637, 489, r'P($s_{Ca}$|event)', ha='center', va='center')

# panel letters
for lab, x, y in [('A', 15, 30), ('B', 457, 27), ('C', 15, 315), ('D', 455, 311)]:
    ftext(x, y, lab, fontsize=17, fontweight='bold', ha='center', va='center')

fig.savefig('out.png', dpi=100)
